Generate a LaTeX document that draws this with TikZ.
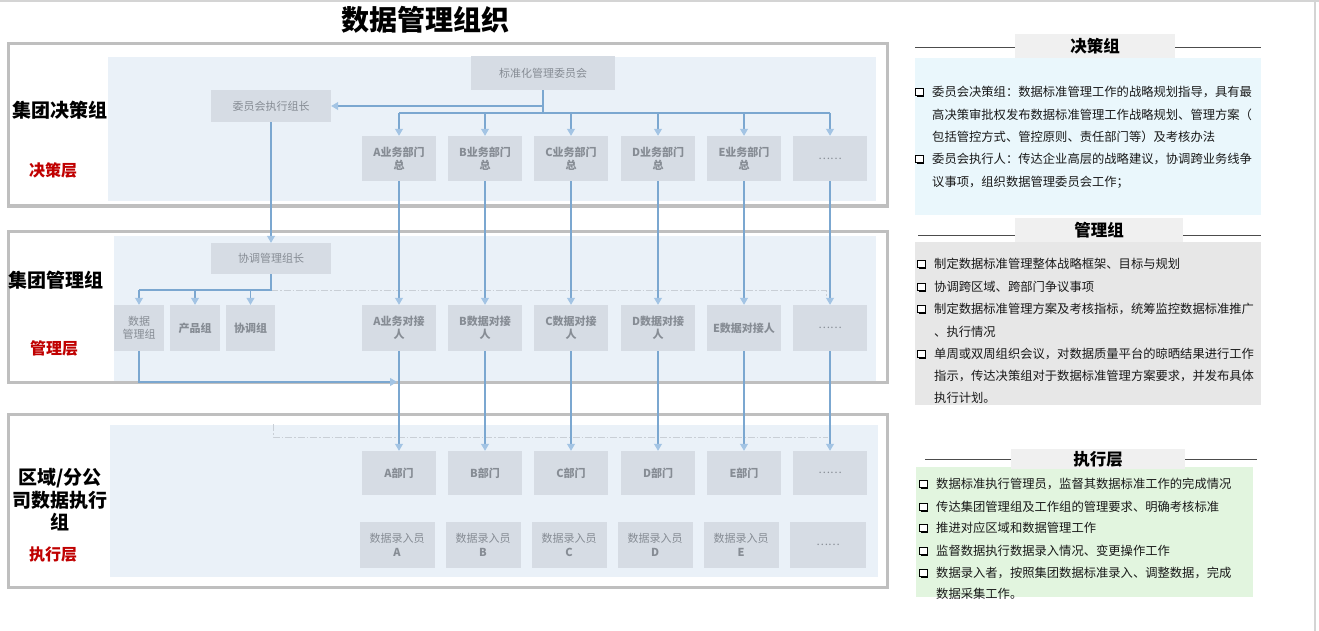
\documentclass[tikz,border=0pt]{standalone}
\usepackage{fontspec}
\setmainfont{Noto Sans CJK SC}
\usetikzlibrary{arrows.meta,shadows}
\definecolor{framegray}{HTML}{BFBFBF}
\definecolor{bgblue}{HTML}{EAF1F8}
\definecolor{boxgray}{HTML}{D6DCE4}
\definecolor{boxtext}{HTML}{868C94}
\definecolor{lineblue}{HTML}{7BA7D0}
\definecolor{arrowblue}{HTML}{A3C4E4}
\definecolor{ddgray}{HTML}{C9CFD6}
\definecolor{redlbl}{HTML}{C00000}
\definecolor{pcyan}{HTML}{EAF7FC}
\definecolor{pgray}{HTML}{E7E7E7}
\definecolor{pgreen}{HTML}{E2F5DF}
\definecolor{hdrgray}{HTML}{F0F0F0}
\definecolor{edgegray}{HTML}{D4D4D4}
\begin{document}
\begin{tikzpicture}[x=1pt,y=-1pt,
  frame/.style={draw=framegray,line width=3pt},
  box/.style={fill=boxgray,draw=none,text=boxtext,align=center,inner sep=1pt,
    font=\fontsize{11}{13.5}\selectfont},
  bbox/.style={box,font=\fontsize{11}{13.5}\selectfont\bfseries},
  plainln/.style={draw=lineblue,line width=1.1pt},
  conn/.style={draw=lineblue,line width=1.1pt,-{Triangle[width=8pt,length=7pt,color=arrowblue]}},
  ddln/.style={draw=ddgray,line width=0.9pt,dash pattern=on 7pt off 2pt on 1.5pt off 2pt},
  grplbl/.style={font=\fontsize{19}{23}\selectfont\bfseries,text=black,inner sep=0pt},
  redl/.style={font=\fontsize{16}{19}\selectfont\bfseries,text=redlbl,inner sep=0pt},
  hdr/.style={fill=hdrgray,font=\fontsize{16.5}{19}\selectfont\bfseries,text=black,inner sep=0pt},
  bul/.style={draw=black,fill=white,line width=1.1pt,minimum size=7.5pt,inner sep=0pt,
    anchor=west,drop shadow={shadow xshift=1.4pt,shadow yshift=-1.4pt,fill=black,opacity=1}},
  pline/.style={font=\fontsize{12.3}{14}\selectfont,text=black!90,inner sep=0pt,anchor=west}
]
\useasboundingbox (0,0) rectangle (1319,631);
\fill[white] (0,0) rectangle (1319,631);
% page edges
\draw[edgegray,line width=2pt] (0,1) -- (1319,1);
\draw[edgegray,line width=2pt] (1315,0) -- (1315,631);

% title
\node[font=\fontsize{28}{32}\selectfont\bfseries,inner sep=0pt] (title) at (425,20) {数据管理组织};

% frames and backgrounds
\fill[bgblue] (108,57) rectangle (876,201);
\fill[bgblue] (114,236) rectangle (876,382);
\fill[bgblue] (110,425) rectangle (878,577);
\draw[frame] (8,44) rectangle (887,206);
\draw[frame] (8,231) rectangle (887,382);
\draw[frame] (8,414) rectangle (887,587);

% left labels
\node[grplbl] (g1) at (60,110) {集团决策组};
\node[redl] (r1) at (53,170) {决策层};
\node[grplbl] (g2) at (56,280) {集团管理组};
\node[redl] (r2) at (54,348) {管理层};
\node[grplbl,align=center,font=\fontsize{19}{22.5}\selectfont\bfseries] (g3) at (60,500) {区域/分公\\司数据执行\\组};
\node[redl] (r3) at (53,555) {执行层};

% top nodes
\node[box,minimum width=144pt,minimum height=34pt] (com) at (543,73) {标准化管理委员会};
\node[box,minimum width=120pt,minimum height=32pt] (exe) at (271,106) {委员会执行组长};
\node[box,minimum width=120pt,minimum height=31pt] (crd) at (271,258.5) {协调管理组长};

% row 1
\foreach \n/\x/\t in {1/399/A,2/485/B,3/571/C,4/658/D,5/744/E}{
  \node[bbox,minimum width=74pt,minimum height=45pt] (d\n) at (\x,158.5) {\t 业务部门\\总};
}
\node[box,minimum width=74pt,minimum height=45pt] (d6) at (830,158.5) {……};

% row 2
\node[bbox,minimum width=74pt,minimum height=46pt] (c1) at (399,328) {A业务对接\\人};
\foreach \n/\x/\t in {2/485/B,3/571/C,4/658/D}{
  \node[bbox,minimum width=74pt,minimum height=46pt] (c\n) at (\x,328) {\t 数据对接\\人};
}
\node[bbox,minimum width=74pt,minimum height=46pt] (c5) at (744,328) {E数据对接人};
\node[box,minimum width=74pt,minimum height=46pt] (c6) at (830,328) {……};

% management sub groups
\node[box,minimum width=50pt,minimum height=46pt] (dm) at (139,328) {数据\\管理组};
\node[bbox,minimum width=50pt,minimum height=46pt] (pg) at (195,328) {产品组};
\node[bbox,minimum width=49pt,minimum height=46pt] (xt) at (250.5,328) {协调组};

% row 3
\foreach \n/\x/\t in {1/399/A,2/485/B,3/571/C,4/658/D,5/744/E}{
  \node[bbox,minimum width=74pt,minimum height=44pt] (b\n) at (\x,473) {\t 部门};
}
\node[box,minimum width=74pt,minimum height=44pt] (b6) at (830,473) {……};

% row 4
\foreach \n/\x/\t in {1/397/A,2/483/B,3/569/C,4/655/D,5/741/E}{
  \node[box,minimum width=75pt,minimum height=46pt] (e\n) at (\x,545) {数据录入员\\\textbf{\t}};
}
\node[box,minimum width=76pt,minimum height=46pt] (e6) at (828,545) {……};

% dash-dot guide lines
\coordinate (k1) at (271,290);
\coordinate (k2) at (826,290);
\coordinate (k3) at (826,297);
\draw[ddln] (k1) -- (k2) -- (k3);
\coordinate (m1) at (273,424);
\coordinate (m2) at (273,437);
\coordinate (m3) at (828,437);
\draw[ddln] (m1) -- (m2) -- (m3);

% committee connectors
\coordinate (j1) at (543,113);
\draw[plainln] (com.south) -- (j1);
\draw[plainln] (d1.north |- j1) -- (d6.north |- j1);
\foreach \n in {1,...,6}{
  \draw[conn] (d\n.north |- j1) -- (d\n.north);
}
\draw[conn] (com.south |- exe.east) -- (exe.east);
\draw[conn] (exe.south) -- (crd.north);

% coordination connectors
\draw[plainln] (crd.south) -- (k1) -- (dm.north |- k1);
\draw[conn] (dm.north |- k1) -- (dm.north);
\draw[conn] (pg.north |- k1) -- (pg.north);
\draw[conn] (xt.north |- k1) -- (xt.north);

% vertical connectors
\foreach \n in {1,...,6}{
  \draw[conn] (d\n.south) -- (c\n.north);
  \draw[conn] (c\n.south) -- (b\n.north);
}
\coordinate (j2) at (139,382);
\coordinate (j3) at (397,382);
\draw[conn] (dm.south) -- (j2) -- (j3);

% ---------- right panels ----------
% panel 1
\fill[pcyan] (915,58) rectangle (1261,215);
\draw[black!70,line width=0.7pt] (915,47) -- (1261,47);
\node[hdr,minimum width=160pt,minimum height=24pt] (h1) at (1095,46) {决策组};
\node[bul] (q1) at (915,92) {};
\node[pline] (p11) at (932,92) {委员会决策组：数据标准管理工作的战略规划指导，具有最};
\node[pline] (p12) at (932,115) {高决策审批权发布数据标准管理工作战略规划、管理方案（};
\node[pline] (p13) at (932,137) {包括管控方式、管控原则、责任部门等）及考核办法};
\node[bul] (q2) at (915,159) {};
\node[pline] (p14) at (932,159) {委员会执行人：传达企业高层的战略建议，协调跨业务线争};
\node[pline] (p15) at (932,182) {议事项，组织数据管理委员会工作；};

% panel 2
\fill[pgray] (915,242) rectangle (1261,405);
\draw[black!70,line width=0.7pt] (918,235) -- (1261,235);
\node[hdr,minimum width=168pt,minimum height=24pt] (h2) at (1099,230) {管理组};
\node[bul] (q3) at (917,264) {};
\node[pline] (p21) at (934,264) {制定数据标准管理整体战略框架、目标与规划};
\node[bul] (q4) at (917,287) {};
\node[pline] (p22) at (934,287) {协调跨区域、跨部门争议事项};
\node[bul] (q5) at (917,309) {};
\node[pline] (p23) at (934,309) {制定数据标准管理方案及考核指标，统筹监控数据标准推广};
\node[pline] (p24) at (934,332) {、执行情况};
\node[bul] (q6) at (917,354) {};
\node[pline] (p25) at (934,354) {单周或双周组织会议，对数据质量平台的晾晒结果进行工作};
\node[pline] (p26) at (934,376) {指示，传达决策组对于数据标准管理方案要求，并发布具体};
\node[pline] (p27) at (934,398) {执行计划。};

% panel 3
\fill[pgreen] (916,467) rectangle (1253,597);
\draw[black!70,line width=0.7pt] (925,459) -- (1257,459);
\node[hdr,minimum width=174pt,minimum height=20pt] (h3) at (1098,459) {执行层};
\node[bul] (q7) at (919,484) {};
\node[pline] (p31) at (936,484) {数据标准执行管理员，监督其数据标准工作的完成情况};
\node[bul] (q8) at (919,507) {};
\node[pline] (p32) at (936,507) {传达集团管理组及工作组的管理要求、明确考核标准};
\node[bul] (q9) at (919,528) {};
\node[pline] (p33) at (936,528) {推进对应区域和数据管理工作};
\node[bul] (q10) at (919,551) {};
\node[pline] (p34) at (936,551) {监督数据执行数据录入情况、变更操作工作};
\node[bul] (q11) at (919,573) {};
\node[pline] (p35) at (936,573) {数据录入者，按照集团数据标准录入、调整数据，完成};
\node[pline] (p36) at (936,594) {数据采集工作。};
\end{tikzpicture}
\end{document}
